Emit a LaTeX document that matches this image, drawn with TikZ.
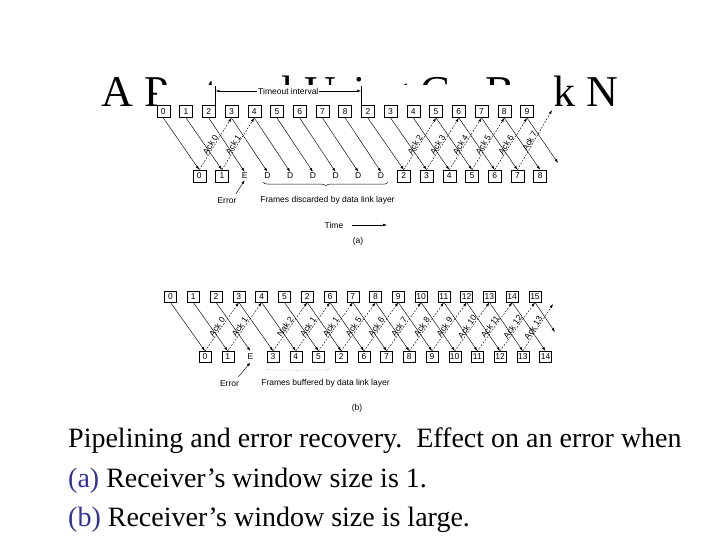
\documentclass[tikz,border=0pt]{standalone}
\usepackage{fontspec}
\setmainfont{Liberation Serif}
\setsansfont{Liberation Sans}
\usetikzlibrary{arrows.meta, positioning, calc, decorations.pathreplacing}

\definecolor{slideblue}{RGB}{51,51,153}

\begin{document}
\begin{tikzpicture}[
    x=1pt, y=-1pt,
    every node/.style = {font=\sffamily\fontsize{8.5}{9}\selectfont},
    frame/.style = {
        draw,
        line width=0.4pt,
        minimum width=13pt,
        minimum height=12pt,
        inner sep=0.5pt
    },
    slot/.style = {inner sep=1pt},
    data/.style = {
        -{Latex[length=4pt,width=2.6pt]},
        line width=0.45pt
    },
    ack/.style = {data, dash pattern=on 1.8pt off 1.4pt},
    acklabel/.style = {sloped, above, pos=0.45, inner sep=0.5pt},
    slidetext/.style = {
        font=\fontsize{28}{30}\selectfont,
        anchor=base west,
        inner sep=0pt
    }
]
\useasboundingbox (0,0) rectangle (720,540);

%% Slide title, partly hidden by the figure
\node[font=\fontsize{44}{48}\selectfont, anchor=base, inner sep=0pt]
    (title) at (360,107) {A Protocol Using Go Back N};
\fill[white] (157,85) rectangle (555,418);

%% (a) frames sent and received
\foreach \lbl [count=\i from 0] in {0,1,2,3,4,5,6,7,8,2,3,4,5,6,7,8,9}
    \node[frame] (ta\i) at (163.3+22.73*\i, 111.7) {\lbl};
\foreach \lbl/\sty [count=\j from 0] in {0/frame,1/frame,E/slot,D/slot,D/slot,D/slot,
        D/slot,D/slot,D/slot,2/frame,3/frame,4/frame,5/frame,6/frame,7/frame,8/frame}
    \node[\sty] (ba\j) at (199.2+22.73*\j, 176) {\lbl};

\foreach \i in {0,...,15}
    \draw[data] (ta\i.south) -- (ba\i.north);
\coordinate (taend) at (558,163);
\draw[data] (ta16.south) -- (taend);

\foreach \j/\k/\txt in {0/3/Ack 0, 1/4/Ack 1, 9/12/Ack 2, 10/13/Ack 3,
        11/14/Ack 4, 12/15/Ack 5, 13/16/Ack 6}
    \draw[ack] (ba\j.north) -- node[acklabel] {\txt} (ta\k.south);
\coordinate (aackend) at (552,110);
\draw[ack] (ba14.north) -- node[acklabel] {Ack 7} (aackend);

%% Timeout interval
\coordinate (tol) at ($(ta2.north east)+(0,-14.5)$);
\coordinate (tor) at ($(ta9.north west)+(0,-14.5)$);
\draw[line width=0.4pt] (ta2.north east) -- ($(tol)+(0,-5)$);
\draw[line width=0.4pt] (ta9.north west) -- ($(tor)+(0,-5)$);
\draw[{Latex[length=4pt,width=2.6pt]}-{Latex[length=4pt,width=2.6pt]}, line width=0.45pt]
    (tol) -- node[fill=white, inner sep=1pt] {Timeout interval} (tor);

%% (a) annotations
\node (erra) at (227,200.5) {Error};
\draw[data] ($(erra.north east)+(-4,0)$) -- (ba2.south);
\draw[decorate, decoration={brace, mirror, amplitude=4pt}, line width=0.45pt]
    ($(ba3.south)+(-4,2)$) -- ($(ba8.south)+(7,2)$);
\node (discard) at (327.5,200.7) {Frames discarded by data link layer};
\node (timea) at (334,225) {Time};
\coordinate (timeend) at (387,225);
\draw[data] ($(timea.east)+(5,0)$) -- (timeend);
\node (capa) at (358,241.7) {(a)};

%% (b) frames sent and received
\foreach \lbl [count=\i from 0] in {0,1,2,3,4,5,2,6,7,8,9,10,11,12,13,14,15}
    \node[frame, minimum width=12pt, minimum height=11pt] (tb\i) at (170.5+22.78*\i, 296.7) {\lbl};
\foreach \lbl/\sty [count=\j from 0] in {0/frame,1/frame,E/slot,3/frame,4/frame,5/frame,
        2/frame,6/frame,7/frame,8/frame,9/frame,10/frame,11/frame,12/frame,13/frame,14/frame}
    \node[\sty, minimum width=12pt, minimum height=11pt] (bb\j) at (205+22.7*\j, 356.7) {\lbl};

\foreach \i in {0,...,15}
    \draw[data] (tb\i.south) -- (bb\i.north);
\coordinate (tbend) at (555,332);
\draw[data] (tb16.south) -- (tbend);

\foreach \j/\k/\txt in {0/3/Ack 0, 1/4/Ack 1, 3/6/Nak 2, 4/7/Ack 1, 5/8/Ack 1,
        6/9/Ack 5, 7/10/Ack 6, 8/11/Ack 7, 9/12/Ack 8, 10/13/Ack 9,
        11/14/Ack 10, 12/15/Ack 11, 13/16/Ack 12}
    \draw[ack] (bb\j.north) -- node[acklabel] {\txt} (tb\k.south);
\coordinate (backend) at (553,304);
\draw[ack] (bb14.north) -- node[acklabel] {Ack 13} (backend);

%% (b) annotations
\node (errb) at (229.5,383.3) {Error};
\draw[data] ($(errb.north east)+(-4,0)$) -- (bb2.south);
\draw[decorate, decoration={brace, mirror, amplitude=3pt}, line width=0.3pt, black!30]
    ($(bb3.south west)+(-1,6)$) -- ($(bb5.south east)+(4,6)$);
\node (buffer) at (325.5,383.3) {Frames buffered by data link layer};
\node (capb) at (357,408) {(b)};

%% Caption text of the slide
\node[slidetext] (line1) at (68,447) {Pipelining and error recovery.\ \ Effect on an error when};
\node[slidetext] (line2) at (68,487) {\textcolor{slideblue}{(a)} Receiver’s window size is 1.};
\node[slidetext] (line3) at (68,526) {\textcolor{slideblue}{(b)} Receiver’s window size is large.};

\end{tikzpicture}
\end{document}
